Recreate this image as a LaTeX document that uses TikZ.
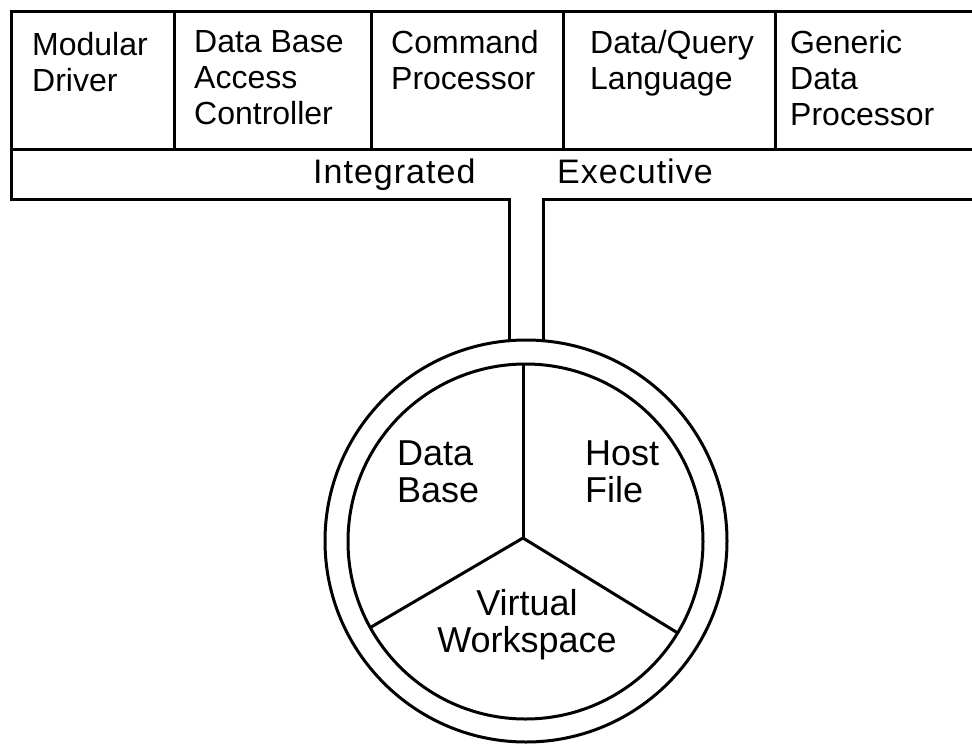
\documentclass[tikz,border=0pt]{standalone}
\usepackage{fontspec}
\setmainfont{Liberation Sans}
\newfontfamily\widesans[LetterSpace=3]{Liberation Sans}
\usetikzlibrary{calc}
\begin{document}
\begin{tikzpicture}[x=1pt,y=-1pt,
  frame/.style={line width=3pt,line cap=rect},
  spoke/.style={line width=3pt},
  boxlabel/.style={anchor=north west,inner sep=0pt,align=left,
    font=\fontsize{32}{36}\selectfont},
  barlabel/.style={anchor=base west,inner sep=0pt,
    font=\widesans\fontsize{34}{36}\selectfont},
  ringlabel/.style={inner sep=0pt,font=\fontsize{36}{37}\selectfont},
  ringline/.style={line width=3pt,circle,draw,inner sep=0pt,outer sep=0pt}]
\useasboundingbox (0,0) rectangle (972,745);
\clip (0,0) rectangle (972,745);

% module row and executive bar
\draw[frame] (980,11) -- (11,11) -- (11,199);
\draw[frame] (11,149) -- (980,149);
\foreach \xx in {174,371,563,775} \draw[frame] (\xx,11) -- (\xx,149);

\node[boxlabel] (md)   at (32,32)  {Modular\\Driver};
\node[boxlabel] (dbac) at (194,30) {Data Base\\Access\\Controller};
\node[boxlabel] (cp)   at (391,30) {Command\\Processor};
\node[boxlabel] (dql)  at (590,30) {Data/Query\\Language};
\node[boxlabel] (gdp)  at (790,30) {Generic\\Data\\Processor};

\node[barlabel] (ie1) at (313,183) {Integrated};
\node[barlabel] (ie2) at (557,183) {Executive};

% workspace ring
\node[ringline,minimum size=402pt] (ring)  at (526,541) {};
\node[ringline,minimum size=355pt] (inner) at (525.5,541.5) {};
\coordinate (hub) at (523,538);
\draw[spoke] (hub) -- (hub |- inner.north);
\draw[spoke,line join=round] (inner.209) -- (hub) -- (inner.329);

% stem joining the bar to the ring
\coordinate (stemL) at (509,199);
\coordinate (stemR) at (543,199);
\draw[frame] (11,199) -- (stemL) -- (stemL |- ring.north);
\draw[frame] (980,199) -- (stemR) -- (stemR |- ring.north);

\node[ringlabel,anchor=north west,align=left] (db) at (397,441) {Data\\Base};
\node[ringlabel,anchor=north west,align=left] (hf) at (585,441) {Host\\File};
\node[ringlabel,anchor=north,align=center] (vw) at (527,589) {Virtual\\Workspace};
\end{tikzpicture}
\end{document}
